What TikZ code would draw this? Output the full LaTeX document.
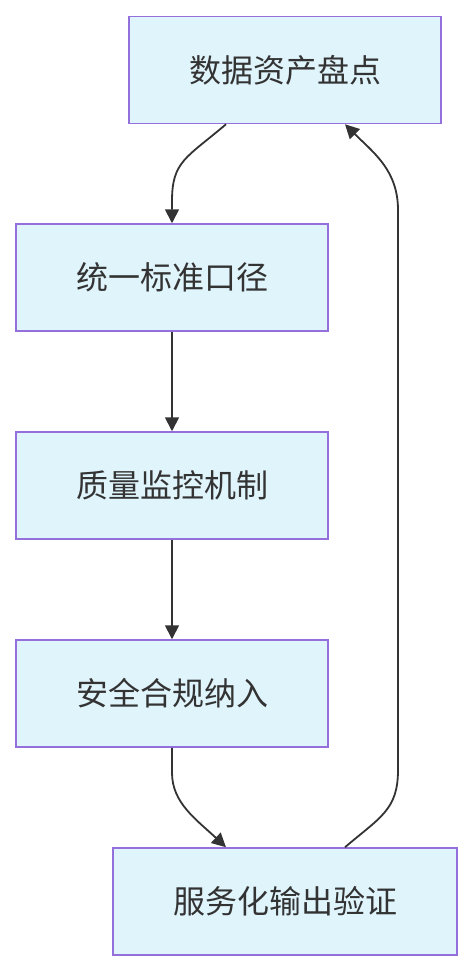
\documentclass[tikz,border=0pt]{standalone}
\usepackage{fontspec}
\setmainfont{Noto Sans CJK SC}
\usetikzlibrary{arrows.meta,calc}
\definecolor{boxfill}{HTML}{E0F4FC}
\definecolor{boxline}{HTML}{9370DB}
\definecolor{ink}{HTML}{333333}
\begin{document}
\begin{tikzpicture}[x=1pt,y=-1pt,
  flowbox/.style={draw=boxline,fill=boxfill,line width=1.5pt,minimum height=107pt,inner sep=0pt,
    text=ink,font=\fontsize{32}{38}\selectfont},
  link/.style={draw=ink,line width=1.8pt,-{Triangle[length=14pt,width=14pt]}}]
\useasboundingbox (0,0) rectangle (473,972);
\node[flowbox,minimum width=312pt] (n1) at (285,70) {数据资产盘点};
\node[flowbox,minimum width=312pt] (n2) at (172,277.5) {统一标准口径};
\node[flowbox,minimum width=312pt] (n3) at (172,485.5) {质量监控机制};
\node[flowbox,minimum width=312pt] (n4) at (172,693.5) {安全合规纳入};
\node[flowbox,minimum width=344pt] (n5) at (285,901.5) {服务化输出验证};
\draw[link] ($(n1.south)+(-59,0)$) .. controls +(-40,34) and +(0,-40) .. ($(n2.north)+(0,-22)$) -- (n2.north);
\draw[link] (n2) -- (n3);
\draw[link] (n3) -- (n4);
\draw[link] (n4.south) -- ++(0,25) .. controls +(0,30) and +(-30,-28) .. ($(n5.north)+(-59,0)$);
\draw[link] ($(n5.north)+(60,0)$) .. controls +(35,-30) and +(0,40) .. (398,770) -- (398,210) .. controls +(0,-40) and +(28,28) .. ($(n1.south)+(60,0)$);
\end{tikzpicture}
\end{document}
